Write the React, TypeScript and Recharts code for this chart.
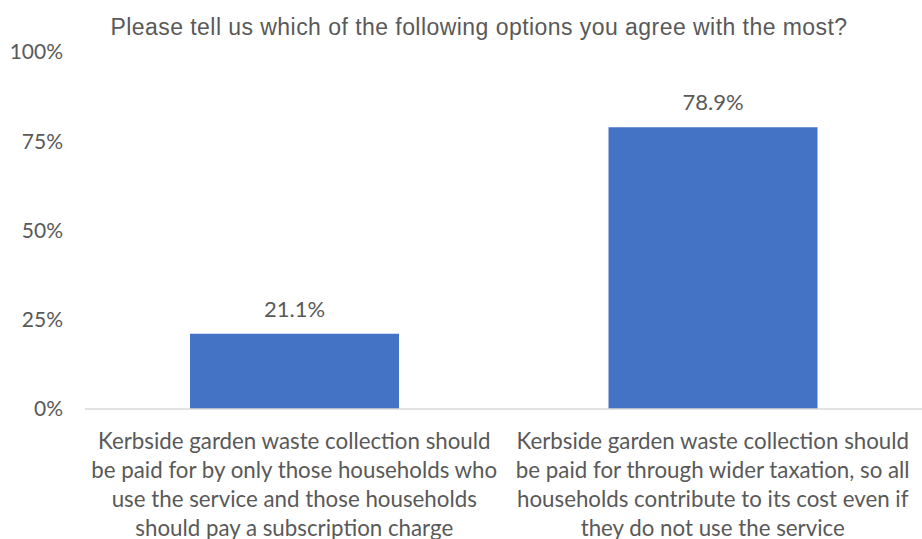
import React from 'react';
import { BarChart, Bar, XAxis, YAxis, LabelList } from 'recharts';

const categories = [
  'Kerbside garden waste collection should be paid for by only those households who use the service and those households should pay a subscription charge',
  'Kerbside garden waste collection should be paid for through wider taxation, so all households contribute to its cost even if they do not use the service',
];
const categoryLines = [
  [
    'Kerbside garden waste collection should',
    'be paid for by only those households who',
    'use the service and those households',
    'should pay a subscription charge',
  ],
  [
    'Kerbside garden waste collection should',
    'be paid for through wider taxation, so all',
    'households contribute to its cost even if',
    'they do not use the service',
  ],
];
const shares = [0.211, 0.789];
const yTicks = [0, 0.25, 0.5, 0.75, 1];
const title = 'Please tell us which of the following options you agree with the most?';

const data = categories.map((c, i) => ({ name: c, value: shares[i], idx: i }));

const GRAY = '#595959';
const FONT = 'Lato, "Open Sans", sans-serif';

const CatTick = (props: any) => {
  const { x, y, index } = props;
  const lines = categoryLines[index] || [];
  return (
    <text x={x} y={y} textAnchor="middle" fill={GRAY} fontFamily={FONT} fontSize={22.3}>
      {lines.map((l, i) => (
        <tspan key={i} x={x} y={y + 32 + i * 29}>
          {l}
        </tspan>
      ))}
    </text>
  );
};

const pct = (v: number) => `${Math.round(v * 100)}%`;
const pct1 = (v: any) => `${(Number(v) * 100).toFixed(1)}%`;

export default function App() {
  return (
    <div style={{ position: 'absolute', left: 0, top: 0, width: 922, height: 539, background: '#fff' }}>
      <svg width={922} height={539} style={{ position: 'absolute', left: 0, top: 0 }}>
        <text
          x={479}
          y={35}
          textAnchor="middle"
          fill={GRAY}
          fontFamily='"Liberation Sans", Arial, sans-serif'
          fontSize={23}
          letterSpacing={0.45}
        >
          {title}
        </text>
      </svg>
      <div style={{ position: 'absolute', left: 0, top: 0 }}>
        <BarChart
          width={922}
          height={539}
          data={data}
          margin={{ top: 52, right: 0, bottom: 0, left: 0 }}
        >
          <XAxis
            dataKey="name"
            tick={<CatTick />}
            tickLine={false}
            axisLine={{ stroke: '#d9d9d9', strokeWidth: 1.5 }}
            interval={0}
            height={130}
          />
          <YAxis
            domain={[0, 1]}
            ticks={yTicks}
            tickFormatter={pct}
            axisLine={false}
            tickLine={false}
            width={85}
            tickMargin={16}
            tick={{ fill: GRAY, fontFamily: FONT, fontSize: 21 }}
          />
          <Bar dataKey="value" fill="#4472C4" barSize={209} isAnimationActive={false}>
            <LabelList
              dataKey="value"
              position="top"
              offset={17}
              formatter={pct1}
              fill={GRAY}
              fontFamily={FONT}
              fontSize={22}
            />
          </Bar>
        </BarChart>
      </div>
    </div>
  );
}
